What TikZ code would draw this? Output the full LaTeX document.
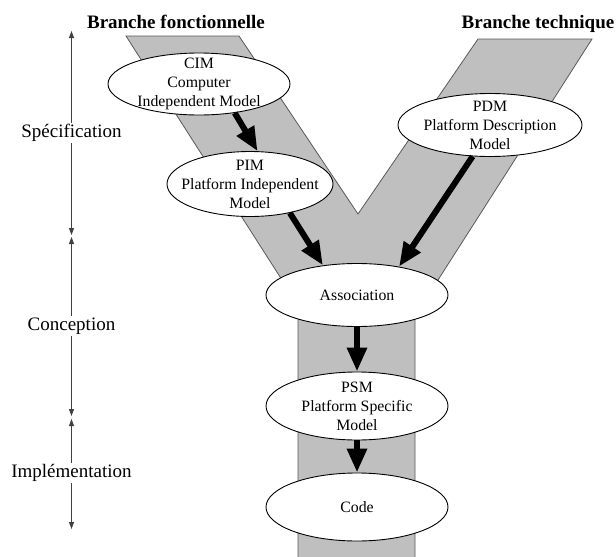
\documentclass[tikz,border=0pt]{standalone}
\usepackage{fontspec}
\setmainfont{Liberation Serif}
\usetikzlibrary{arrows.meta,shapes.geometric}
\begin{document}
\begin{tikzpicture}[x=1pt,y=-1pt,
  model/.style={ellipse,draw=black,line width=0.9pt,fill=white,inner sep=0pt},
  mtext/.style={align=center,inner sep=0pt,font=\fontsize{15.8}{19}\selectfont},
  flow/.style={line width=6pt,-{Triangle[length=24pt,width=19pt]}},
  phase/.style={font=\fontsize{19}{22}\selectfont,inner sep=1.5pt},
  axis/.style={draw=black!75,line width=0.9pt,-{Triangle[length=7pt,width=5pt]}},
  title/.style={font=\fontsize{19}{22}\selectfont\bfseries,anchor=base},
  band/.style={fill=black!25,draw=black!65,line width=0.8pt}]
\useasboundingbox (0,0) rectangle (616,557);
% grey Y-shaped band
\draw[band] (126,36) -- (239,36) -- (358,214) -- (478,39) -- (592,39)
  -- (415,316) -- (415,575) -- (298,575) -- (298,305) -- cycle;
% titles
\node[title] (tf) at (176,28) {Branche fonctionnelle};
\node[title] (tt) at (538,28) {Branche technique};
% models
\node[model,minimum width=182pt,minimum height=62pt] (cim) at (199,84) {};
\node[mtext] (cimt) at (cim) {CIM\\Computer\\Independent Model};
\node[model,minimum width=166pt,minimum height=65pt] (pim) at (250,184) {};
\node[mtext] (pimt) at (pim) {PIM\\Platform Independent\\Model};
\node[model,minimum width=184pt,minimum height=63pt] (pdm) at (490,125) {};
\node[mtext] (pdmt) at (pdm) {PDM\\Platform Description\\Model};
\node[model,minimum width=182pt,minimum height=63pt] (asso) at (357,295) {};
\node[mtext] (assot) at (asso) {Association};
\node[model,minimum width=182pt,minimum height=68pt] (psm) at (357,406) {};
\node[mtext] (psmt) at (psm) {PSM\\Platform Specific\\Model};
\node[model,minimum width=182pt,minimum height=68pt] (code) at (357,507) {};
\node[mtext] (codet) at (code) {Code};
% flows
\draw[flow] (cim.-39) -- (pim.77);
\draw[flow] (pim.-36) -- (asso.139);
\draw[flow] (pdm.-119) -- (asso.34);
\draw[flow] (asso.south) -- (psm.north);
\draw[flow] (psm.south) -- (code.north);
% phases axis
\node[phase] (spec) at (71.5,133) {Spécification};
\coordinate (s1) at (71.5,31);
\coordinate (s2) at (71.5,235);
\draw[axis] (spec) -- (s1);
\draw[axis] (spec) -- (s2);
\node[phase] (conc) at (71.5,326) {Conception};
\coordinate (c1) at (71.5,237);
\coordinate (c2) at (71.5,416);
\draw[axis] (conc) -- (c1);
\draw[axis] (conc) -- (c2);
\node[phase] (impl) at (71.5,473) {Implémentation};
\coordinate (i1) at (71.5,419);
\coordinate (i2) at (71.5,529);
\draw[axis] (impl) -- (i1);
\draw[axis] (impl) -- (i2);
\end{tikzpicture}
\end{document}
